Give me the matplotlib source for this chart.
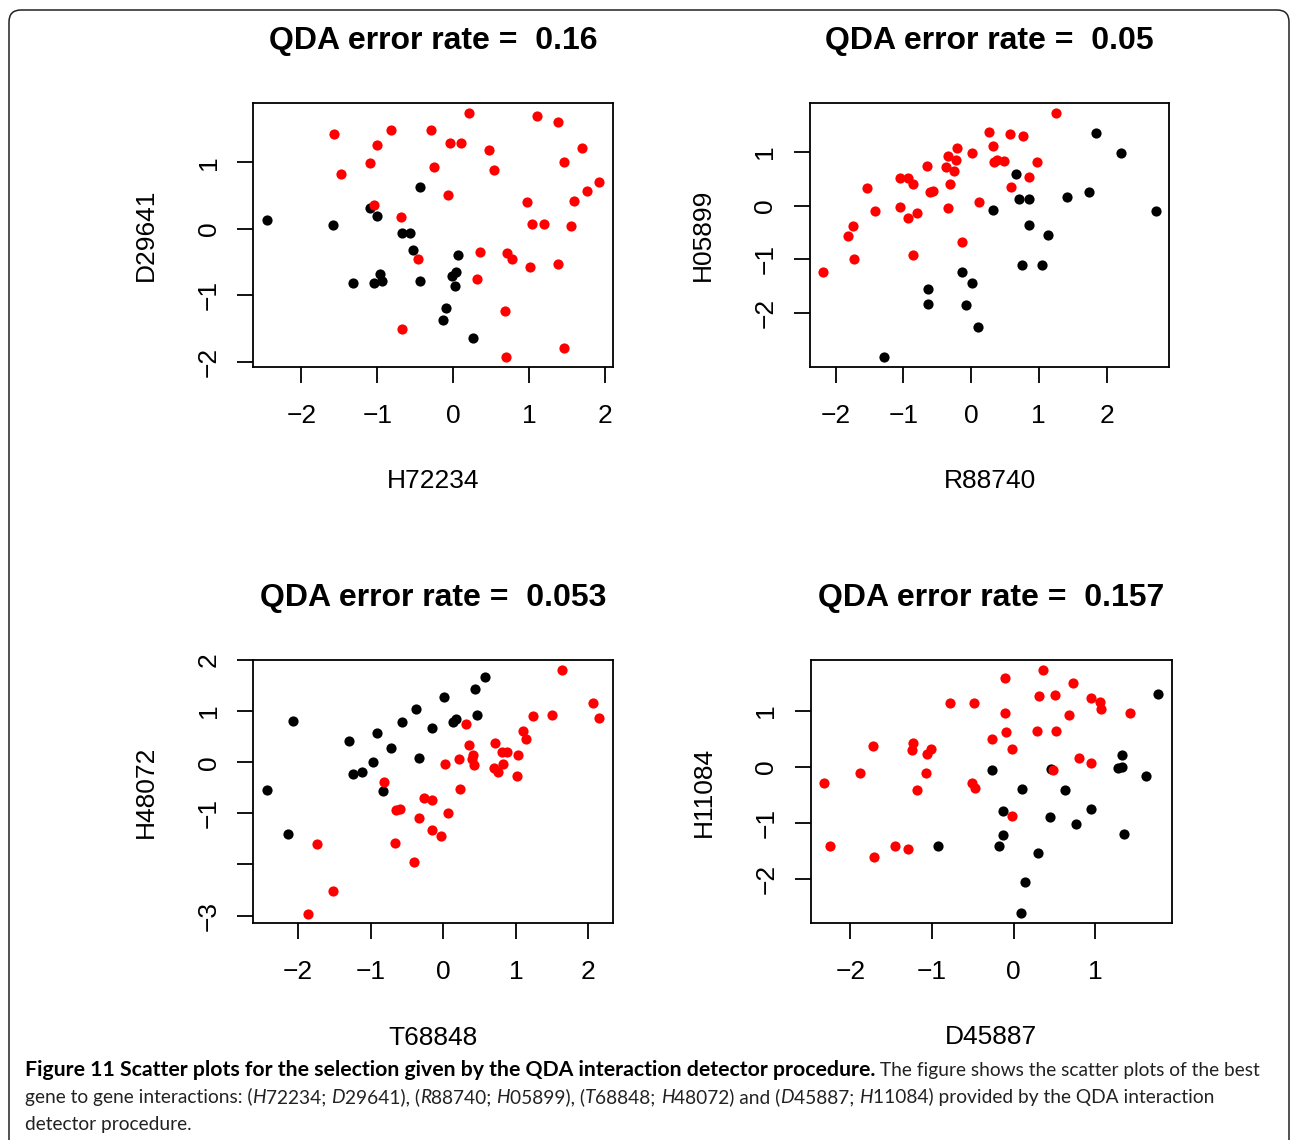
import matplotlib
matplotlib.use("Agg")
import matplotlib.pyplot as plt
from matplotlib.patches import FancyBboxPatch
from matplotlib.transforms import IdentityTransform
from matplotlib.font_manager import FontProperties

# ---------------- data ----------------
titles = ["QDA error rate =  0.16", "QDA error rate =  0.05",
          "QDA error rate =  0.053", "QDA error rate =  0.157"]
xlabels = ["H72234", "R88740", "T68848", "D45887"]
ylabels = ["D29641", "H05899", "H48072", "H11084"]

x_ticks = [[-2, -1, 0, 1, 2], [-2, -1, 0, 1, 2], [-2, -1, 0, 1, 2], [-2, -1, 0, 1]]
x_ticklabels = [["−2", "−1", "0", "1", "2"], ["−2", "−1", "0", "1", "2"],
                ["−2", "−1", "0", "1", "2"], ["−2", "−1", "0", "1"]]
y_ticks = [[-2, -1, 0, 1], [-2, -1, 0, 1], [-3, -2, -1, 0, 1, 2], [-2, -1, 0, 1]]
y_ticklabels = [["−2", "−1", "0", "1"], ["−2", "−1", "0", "1"],
                ["−3", "", "−1", "0", "1", "2"], ["−2", "−1", "0", "1"]]

# Panel 1: H72234 vs D29641
p1_red_x = [-1.57, -1.00, -0.82, -0.29, 0.21, 1.11, 1.38, -0.04, 0.10, 0.47, 1.70, -1.10, 1.46,
            -1.48, -0.25, 0.54, 1.93, 1.77, -0.07, 0.98, 1.59, -1.04, -0.69, 1.04, 1.20, 1.56,
            0.36, 0.71, 0.78, -0.46, 1.01, 1.38, 0.32, 0.69, -0.68, 1.46, 0.70]
p1_red_y = [1.43, 1.26, 1.49, 1.49, 1.74, 1.69, 1.60, 1.29, 1.29, 1.19, 1.22, 0.99, 1.00,
            0.83, 0.93, 0.89, 0.71, 0.57, 0.50, 0.40, 0.41, 0.36, 0.17, 0.07, 0.07, 0.04,
            -0.35, -0.37, -0.46, -0.45, -0.57, -0.53, -0.76, -1.24, -1.51, -1.79, -1.93]
p1_black_x = [-2.46, -1.59, -0.44, -1.10, -1.01, -0.68, -0.57, -0.53, 0.07, -0.96, -0.94,
              -1.32, -1.04, -0.44, -0.01, 0.04, 0.03, -0.10, -0.13, 0.26]
p1_black_y = [0.13, 0.05, 0.63, 0.31, 0.19, -0.07, -0.07, -0.32, -0.39, -0.68, -0.79,
              -0.82, -0.82, -0.79, -0.71, -0.65, -0.86, -1.19, -1.38, -1.65]

# Panel 2: R88740 vs H05899
p2_red_x = [1.25, 0.27, 0.57, 0.76, -0.20, 0.33, 0.01, -0.34, -0.22, 0.34, 0.39, 0.49, 0.98,
            -0.65, -0.37, -0.25, -1.05, -0.93, -0.85, -1.53, -0.31, -0.61, -0.56, 0.86, 0.59,
            0.12, -1.41, -1.05, -0.93, -0.80, -0.34, -1.74, -1.81, -1.72, -2.18, -0.85, -0.13]
p2_red_y = [1.72, 1.37, 1.34, 1.29, 1.08, 1.10, 0.98, 0.93, 0.85, 0.82, 0.84, 0.83, 0.81,
            0.73, 0.72, 0.64, 0.52, 0.51, 0.40, 0.32, 0.41, 0.25, 0.27, 0.54, 0.35,
            0.07, -0.10, -0.02, -0.22, -0.13, -0.05, -0.38, -0.56, -1.00, -1.23, -0.91, -0.67]
p2_black_x = [1.84, 2.21, 0.66, 0.71, 0.85, 1.41, 1.74, 2.73, 0.33, 0.85, 1.14, 0.75, 1.05,
              -0.13, 0.02, -0.64, -0.64, -0.08, 0.11, -1.29]
p2_black_y = [1.35, 0.98, 0.58, 0.12, 0.12, 0.16, 0.25, -0.09, -0.08, -0.35, -0.54, -1.11,
              -1.10, -1.24, -1.43, -1.55, -1.83, -1.84, -2.26, -2.81]

# Panel 3: T68848 vs H48072
p3_red_x = [1.63, 2.06, 2.15, 0.31, 1.24, 1.50, 1.10, 1.14, 0.36, 0.72, 0.81, 0.88, 1.03,
            0.41, 0.40, 0.42, 0.02, 0.22, 0.70, 0.76, 0.83, 1.01, -0.82, 0.23, -0.26, -0.16,
            -0.65, -0.59, 0.06, -0.33, -0.15, -0.03, -0.66, -1.73, -0.40, -1.51, -1.86]
p3_red_y = [1.81, 1.15, 0.87, 0.74, 0.91, 0.92, 0.62, 0.46, 0.33, 0.38, 0.21, 0.21, 0.14,
            0.14, 0.07, -0.05, -0.04, 0.07, -0.12, -0.20, -0.04, -0.26, -0.39, -0.53, -0.69,
            -0.74, -0.93, -0.91, -1.00, -1.09, -1.32, -1.45, -1.58, -1.60, -1.95, -2.52, -2.96]
p3_black_x = [-2.43, -2.06, -2.14, -1.30, -1.24, -1.12, -0.91, -0.97, -0.72, -0.83, -0.57,
              -0.37, -0.33, -0.16, 0.01, 0.14, 0.18, 0.44, 0.47, 0.57]
p3_black_y = [-0.55, 0.81, -1.40, 0.41, -0.23, -0.20, 0.57, 0.00, 0.27, -0.56, 0.79, 1.04,
              0.09, 0.68, 1.28, 0.78, 0.84, 1.44, 0.93, 1.67]

# Panel 4: D45887 vs H11084
p4_red_x = [0.36, -0.11, 0.72, 0.31, 0.50, 0.95, 1.05, 1.07, -0.78, -0.49, -0.11, 0.67, 1.42,
            -0.10, 0.29, 0.52, -0.27, -1.73, -1.23, -1.25, -1.02, -1.06, -0.02, 0.80, 0.95,
            -1.88, 0.48, -1.07, -2.32, -0.51, -0.47, -1.19, -0.02, -2.25, -1.71, -1.45, -1.29]
p4_red_y = [1.74, 1.59, 1.50, 1.27, 1.29, 1.23, 1.16, 1.04, 1.14, 1.14, 0.97, 0.93, 0.96,
            0.63, 0.65, 0.64, 0.51, 0.37, 0.43, 0.31, 0.32, 0.24, 0.33, 0.16, 0.07,
            -0.10, -0.05, -0.11, -0.29, -0.29, -0.38, -0.40, -0.87, -1.41, -1.60, -1.41, -1.46]
p4_black_x = [1.77, 1.32, 1.28, 1.33, 1.62, -0.27, 0.45, 0.10, 0.63, -0.13, 0.44, 0.95, 0.76,
              1.35, -0.13, -0.18, -0.93, 0.30, 0.14, 0.09]
p4_black_y = [1.30, 0.21, -0.01, 0.01, -0.16, -0.05, -0.04, -0.39, -0.40, -0.79, -0.89,
              -0.74, -1.02, -1.19, -1.21, -1.41, -1.40, -1.54, -2.06, -2.61]

red_x = [p1_red_x, p2_red_x, p3_red_x, p4_red_x]
red_y = [p1_red_y, p2_red_y, p3_red_y, p4_red_y]
black_x = [p1_black_x, p2_black_x, p3_black_x, p4_black_x]
black_y = [p1_black_y, p2_black_y, p3_black_y, p4_black_y]

caption_lines = [
    [("Figure 11 Scatter plots for the selection given by the QDA interaction detector procedure.", "bold"),
     (" The figure shows the scatter plots of the best", "normal")],
    [("gene to gene interactions: (", "normal"), ("H", "italic"), ("72234; ", "normal"),
     ("D", "italic"), ("29641), (", "normal"), ("R", "italic"), ("88740; ", "normal"),
     ("H", "italic"), ("05899), (", "normal"), ("T", "italic"), ("68848; ", "normal"),
     ("H", "italic"), ("48072) and (", "normal"), ("D", "italic"), ("45887; ", "normal"),
     ("H", "italic"), ("11084) provided by the QDA interaction", "normal")],
    [("detector procedure.", "normal")],
]

# ---------------- figure ----------------
W, H = 1290, 1140
fig = plt.figure(figsize=(W / 100, H / 100), dpi=100)
plt.rcParams['font.family'] = ['Liberation Sans', 'DejaVu Sans']
plt.rcParams['axes.unicode_minus'] = True

# panel boxes in pixels: left, top, right, bottom
boxes = [(253.3, 103.3, 612.7, 366.7), (810.0, 103.3, 1169.3, 366.7),
         (253.3, 660.0, 612.7, 923.3), (811.0, 660.0, 1171.7, 923.0)]

TICK_FS = 19
for i, (l, t, r, b) in enumerate(boxes):
    ax = fig.add_axes([l / W, 1 - b / H, (r - l) / W, (b - t) / H])
    ax.scatter(black_x[i], black_y[i], s=54, c='black', linewidths=0, zorder=3)
    ax.scatter(red_x[i], red_y[i], s=54, c='#ff0000', linewidths=0, zorder=3)
    ax.margins(0.04)
    for sp in ax.spines.values():
        sp.set_linewidth(1.3)
    ax.set_xticks(x_ticks[i])
    ax.set_xticklabels(x_ticklabels[i])
    ax.set_yticks(y_ticks[i])
    ax.set_yticklabels(y_ticklabels[i])
    ax.tick_params(direction='out', length=11.5, width=1.3, labelsize=TICK_FS)
    ax.tick_params(axis='x', pad=15)
    ax.tick_params(axis='y', pad=12, labelrotation=90)
    for lab in ax.get_yticklabels():
        lab.set_va('center')
    ax.annotate(titles[i], xy=(0.5, 1), xycoords='axes fraction', xytext=(0, 54),
                textcoords='offset pixels', ha='center', va='baseline',
                fontsize=23, fontweight='bold')
    ax.annotate(xlabels[i], xy=(0.5, 0), xycoords='axes fraction', xytext=(0, -121.5),
                textcoords='offset pixels', ha='center', va='baseline', fontsize=TICK_FS)
    ax.annotate(ylabels[i], xy=(0, 0.5), xycoords='axes fraction', xytext=(-107.5, 0),
                textcoords='offset pixels', ha='center', va='center', rotation=90,
                fontsize=TICK_FS)

# outer rounded border
border = FancyBboxPatch((9, -40), 1280, 1170, boxstyle="round,pad=0,rounding_size=12",
                        transform=IdentityTransform(), fill=False, ec='#222222', lw=1.1)
fig.add_artist(border)

# caption
renderer = fig.canvas.get_renderer()
CAP_FAMILY = ['Lato', 'Open Sans', 'DejaVu Sans']


def fprops(style, size):
    if style == "bold":
        return FontProperties(family=CAP_FAMILY, weight='bold', size=size)
    if style == "italic":
        return FontProperties(family=CAP_FAMILY, style='italic', size=size)
    return FontProperties(family=CAP_FAMILY, size=size)


def seg_width(s, fp):
    t1 = fig.text(0, 0, "|" + s + "|", fontproperties=fp, transform=IdentityTransform())
    w1 = t1.get_window_extent(renderer).width
    t1.remove()
    t2 = fig.text(0, 0, "||", fontproperties=fp, transform=IdentityTransform())
    w2 = t2.get_window_extent(renderer).width
    t2.remove()
    return w1 - w2


base = 12.0
# bold lead-in fitted to its width in the reference, body text fitted to line 2
w_bold = seg_width(caption_lines[0][0][0], fprops("bold", base))
bold_size = base * (848.0 / w_bold)
w_line2 = sum(seg_width(s, fprops(st, base)) for s, st in caption_lines[1])
body_size = base * (1182.0 / w_line2)

baselines = [H - 1076, H - 1103, H - 1130]
for line, yb in zip(caption_lines, baselines):
    x = 25.0
    for s, st in line:
        fp = fprops(st, bold_size if st == "bold" else body_size)
        fig.text(x, yb, s, fontproperties=fp, transform=IdentityTransform(),
                 ha='left', va='baseline', color='black' if st == 'bold' else '#222222')
        x += seg_width(s, fp)

fig.savefig("out.png", dpi=100)
